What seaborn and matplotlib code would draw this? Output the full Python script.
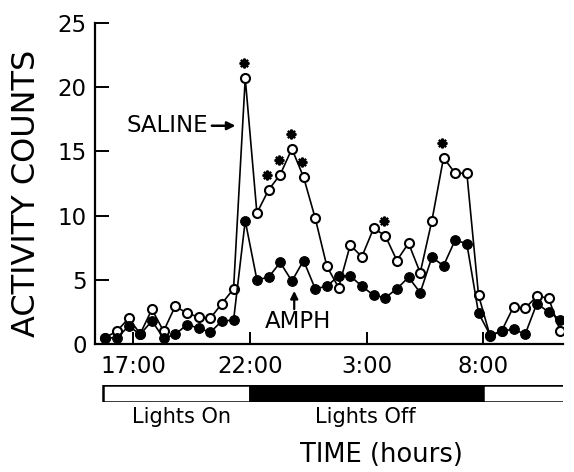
import numpy as np
import pandas as pd
import matplotlib
matplotlib.use("Agg")
import matplotlib.pyplot as plt
import seaborn as sns

# ---- data ----
hours = [15.8, 16.3, 16.8, 17.3, 17.8, 18.3, 18.8, 19.3, 19.8, 20.3,
         20.8, 21.3, 21.8, 22.3, 22.8, 23.3, 23.8, 24.3, 24.8, 25.3,
         25.8, 26.3, 26.8, 27.3, 27.8, 28.3, 28.8, 29.3, 29.8, 30.3,
         30.8, 31.3, 31.8, 32.3, 32.8, 33.3, 33.8, 34.3, 34.8, 35.3]
saline = [0.5, 1.0, 2.0, 0.8, 2.7, 1.0, 2.95, 2.4, 2.1, 2.0,
          3.15, 4.3, 20.7, 10.2, 12.0, 13.2, 15.2, 13.0, 9.8, 6.05,
          4.4, 7.7, 6.8, 9.0, 8.45, 6.5, 7.85, 5.55, 9.6, 14.5,
          13.3, 13.3, 3.8, 0.6, 1.05, 2.9, 2.8, 3.7, 3.6, 1.0]
amph = [0.5, 0.45, 1.4, 0.75, 1.8, 0.45, 0.75, 1.5, 1.25, 0.9,
        1.8, 1.85, 9.6, 5.0, 5.2, 6.35, 4.9, 6.5, 4.3, 4.5,
        5.3, 5.3, 4.5, 3.8, 3.6, 4.3, 5.2, 4.0, 6.75, 6.1,
        8.1, 7.8, 2.4, 0.7, 1.0, 1.15, 0.76, 3.15, 2.5, 1.9]
signif_idx = [12, 14, 15, 16, 17, 24, 29]   # saline points marked with *

tick_hours = [17, 22, 27, 32]
tick_labels = ["17:00", "22:00", "3:00", "8:00"]

light_start = [15.7, 22.0, 32.0]
light_end = [22.0, 32.0, 35.5]
light_color = ["white", "black", "white"]

df = pd.DataFrame({"hour": hours, "saline": saline, "amph": amph})

sns.set_theme(style="ticks")
plt.rcParams["font.family"] = ["DejaVu Sans"]
plt.rcParams.update({"text.color": "black", "axes.labelcolor": "black",
                     "xtick.color": "black", "ytick.color": "black",
                     "axes.edgecolor": "black"})

fig = plt.figure(figsize=(5.74, 4.72), dpi=100)
ax = fig.add_axes([0.1655, 0.2712, 0.8153, 0.680])

sns.lineplot(data=df, x="hour", y="saline", ax=ax, color="black", lw=1.2,
             marker="o", markersize=6.5, markerfacecolor="white",
             markeredgecolor="black", markeredgewidth=1.5, zorder=3)
sns.lineplot(data=df, x="hour", y="amph", ax=ax, color="black", lw=1.2,
             marker="o", markersize=7, markerfacecolor="black",
             markeredgecolor="black", zorder=4)

# significance asterisks
sig_x = [hours[i] - 0.05 for i in signif_idx]
sig_y = [saline[i] + 1.15 for i in signif_idx]
ax.plot(sig_x, sig_y, linestyle="none", marker=(8, 2, 0), markersize=7,
        markeredgewidth=1.6, color="black", zorder=5)

ax.set_xlim(15.36, 35.42)
ax.set_ylim(0, 25)
ax.set_xticks(tick_hours)
ax.set_xticklabels(tick_labels)
ax.set_yticks([0, 5, 10, 15, 20, 25])
ax.tick_params(axis="both", direction="in", width=1.4, color="black",
               labelcolor="black", labelsize=16.5)
ax.tick_params(axis="y", length=10, pad=6)
ax.tick_params(axis="x", length=9, pad=8)
for s in ["left", "bottom"]:
    ax.spines[s].set_linewidth(1.6)
    ax.spines[s].set_color("black")
sns.despine(ax=ax)
ax.set_xlabel("")
ax.set_ylabel("ACTIVITY COUNTS", fontsize=23, color="black")
ax.yaxis.set_label_coords(-0.113, 0.47)

# annotations
ax.annotate("", xy=(21.5, 17.0), xytext=(20.25, 17.0),
            arrowprops=dict(arrowstyle="-|>", color="black", lw=1.8,
                            mutation_scale=12))
ax.text(20.2, 17.0, "SALINE", ha="right", va="center", fontsize=16.5,
        color="black")
ax.annotate("", xy=(hours[16] + 0.1, amph[16] - 0.55),
            xytext=(hours[16] + 0.1, amph[16] - 2.4),
            arrowprops=dict(arrowstyle="-|>", color="black", lw=1.6,
                            mutation_scale=11))
ax.text(22.65, 1.75, "AMPH", ha="left", va="center", fontsize=16.5,
        color="black")

# lights bar
axb = fig.add_axes([0.1655, 0.1483, 0.8153, 0.036])
axb.barh([0] * len(light_start),
         [e - s for s, e in zip(light_start, light_end)],
         left=light_start, height=1.0, color=light_color,
         edgecolor="black", linewidth=1.8)
axb.set_xlim(15.36, 35.42)
axb.set_ylim(-0.5, 0.5)
axb.axis("off")

fig.text(182 / 574, 1 - 417 / 472, "Lights On", ha="center", va="center",
         fontsize=15, color="black")
fig.text(365 / 574, 1 - 417 / 472, "Lights Off", ha="center", va="center",
         fontsize=15, color="black")
fig.text(381 / 574, 1 - 455 / 472, "TIME (hours)", ha="center",
         va="center", fontsize=18.5, color="black")

fig.savefig("out.png", dpi=100, facecolor="white")
